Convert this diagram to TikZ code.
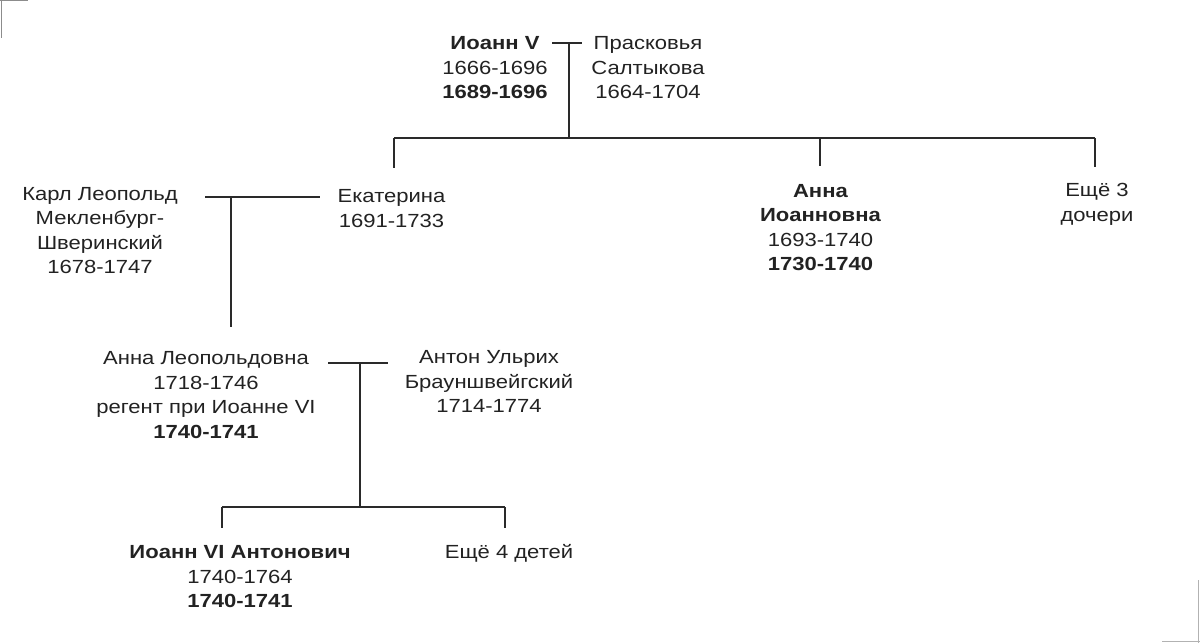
\documentclass[tikz,border=0pt]{standalone}
\usepackage{fontspec}
\setmainfont{Liberation Sans}[FakeStretch=1.16]
\usepackage{tikz}
\usetikzlibrary{positioning}
\definecolor{txt}{HTML}{222222}
\definecolor{ln}{HTML}{2A2A2A}

\begin{document}
\begin{tikzpicture}[x=1pt,y=-1pt,
  person/.style={align=center,anchor=base,inner sep=0pt,text=txt,
    font=\fontsize{19}{24.5}\selectfont},
  link/.style={draw=ln,line width=1.8pt},
  scanedge/.style={draw=black!45,line width=1.5pt}]
  \useasboundingbox (0,0) rectangle (1200,643);
  % Ioann V and Praskovya (nodes sit on their last baseline)
  \node[person] (ioann) at (495,98.5) {\textbf{Иоанн V}\\1666-1696\\\textbf{1689-1696}};
  \node[person] (praskovya) at (648,98.5) {Прасковья\\Салтыкова\\1664-1704};
  \coordinate (m1l) at (552,43);
  \coordinate (m1r) at (582,43);
  \coordinate (m1) at (569,43);
  \coordinate (s1) at (569,138);
  \draw[link] (m1l) -- (m1r);
  \draw[link] (m1) -- (s1);
  % their daughters
  \coordinate (s1l) at (394,138);
  \coordinate (s1m) at (820,138);
  \coordinate (s1r) at (1095,138);
  \coordinate (ekat-top) at (394,168);
  \coordinate (annai-top) at (820,166);
  \coordinate (more3-top) at (1095,167);
  \draw[link] (s1l) -- (s1r);
  \draw[link] (s1l) -- (ekat-top);
  \draw[link] (s1m) -- (annai-top);
  \draw[link] (s1r) -- (more3-top);
  \node[person] (ekat) at (391.5,227) {Екатерина\\1691-1733};
  \node[person] (annai) at (820.5,270.5) {\textbf{Анна}\\\textbf{Иоанновна}\\1693-1740\\\textbf{1730-1740}};
  \node[person] (more3) at (1097,221) {Ещё 3\\дочери};
  % Karl Leopold and Ekaterina
  \node[person] (karl) at (100,273.5) {Карл Леопольд\\Мекленбург-\\Шверинский\\1678-1747};
  \coordinate (m2l) at (205,197);
  \coordinate (m2r) at (320,197);
  \coordinate (m2) at (231,197);
  \coordinate (annal-top) at (231,327);
  \draw[link] (m2l) -- (m2r);
  \draw[link] (m2) -- (annal-top);
  % Anna Leopoldovna and Anton Ulrich
  \node[person] (annal) at (206,438) {Анна Леопольдовна\\1718-1746\\регент при Иоанне VI\\\textbf{1740-1741}};
  \node[person] (anton) at (489,412.5) {Антон Ульрих\\Брауншвейгский\\1714-1774};
  \coordinate (m3l) at (328,363);
  \coordinate (m3r) at (388,363);
  \coordinate (m3) at (360,363);
  \coordinate (s3) at (360,507);
  \draw[link] (m3l) -- (m3r);
  \draw[link] (m3) -- (s3);
  % their children
  \coordinate (s3l) at (222,507);
  \coordinate (s3r) at (505,507);
  \coordinate (ioann6-top) at (222,528);
  \coordinate (more4-top) at (505,528);
  \draw[link] (s3l) -- (s3r);
  \draw[link] (s3l) -- (ioann6-top);
  \draw[link] (s3r) -- (more4-top);
  \node[person] (ioann6) at (240,607.5) {\textbf{Иоанн VI Антонович}\\1740-1764\\\textbf{1740-1741}};
  \node[person] (more4) at (509,558) {Ещё 4 детей};
  % scan edges in the corners
  \draw[scanedge] (0,0.7) -- (28,0.7);
  \draw[scanedge] (1.5,0) -- (1.5,38);
  \draw[scanedge,draw=black!30] (1198.5,580) -- (1198.5,643);
  \draw[scanedge,draw=black!30] (1162,641.5) -- (1200,641.5);
\end{tikzpicture}
\end{document}
